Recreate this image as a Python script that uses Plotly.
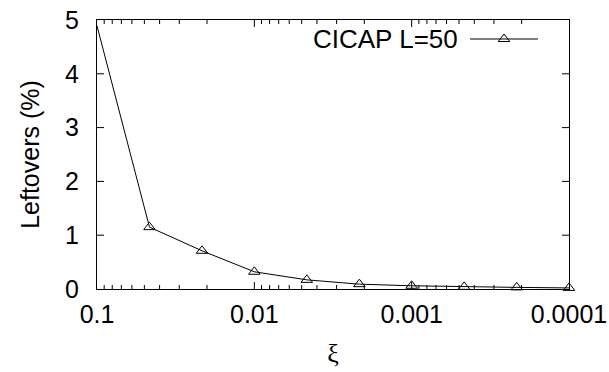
import math
import plotly.graph_objects as go

# Data
xi = [0.1, 0.0464, 0.0215, 0.01, 0.00464, 0.00215, 0.001, 0.000464, 0.000215, 0.0001]
leftovers = [4.89, 1.15, 0.71, 0.32, 0.17, 0.09, 0.06, 0.04, 0.03, 0.02]
x_tickvals = [0.1, 0.01, 0.001, 0.0001]
x_ticktext = ["0.1", "0.01", "0.001", "0.0001"]
y_tickvals = [0, 1, 2, 3, 4, 5]
series_name = "CICAP L=50"

W, H = 609, 372
ML, MR, MT, MB = 97, 40, 20, 83
PW, PH = W - ML - MR, H - MT - MB
FONT = "Liberation Sans, Arial, sans-serif"
XR = [-1, -4]  # log10 range, reversed
YR = [0, 5]

minor_vals = [m * 10.0 ** e for e in (-4, -3, -2) for m in range(2, 10)]


def px_to_data(px, py):
    fx = (px - ML) / PW
    fy = (H - MB - py) / PH
    return 10 ** (XR[0] + fx * (XR[1] - XR[0])), YR[0] + fy * (YR[1] - YR[0])


def x_frac(v):
    return (math.log10(v) - XR[0]) / (XR[1] - XR[0])


fig = go.Figure()
fig.add_trace(go.Scatter(
    x=xi, y=leftovers, mode="lines+markers", name=series_name,
    line=dict(color="black", width=1),
    marker=dict(symbol="triangle-up-open", size=10, color="black",
                line=dict(color="black", width=1)),
    showlegend=False, cliponaxis=False,
))

# legend key: line with a marker in the middle
k0 = px_to_data(470, 39)
k1 = px_to_data(538, 39)
km = px_to_data(504, 39)
fig.add_trace(go.Scatter(
    x=[k0[0], k1[0]], y=[k0[1], k1[1]], mode="lines",
    line=dict(color="black", width=1), showlegend=False, hoverinfo="skip",
    cliponaxis=False,
))
fig.add_trace(go.Scatter(
    x=[km[0]], y=[km[1]], mode="markers",
    marker=dict(symbol="triangle-up-open", size=10, color="black",
                line=dict(color="black", width=1)),
    showlegend=False, hoverinfo="skip", cliponaxis=False,
))

fig.add_annotation(
    text=series_name, xref="paper", yref="paper",
    x=(460 - ML) / PW, y=(H - MB - 39) / PH,
    xanchor="right", yanchor="middle", showarrow=False,
    font=dict(family=FONT, size=26, color="black"),
)

# inside tick marks on all four sides (gnuplot style), as pixel-sized shapes
tick_line = dict(color="black", width=1)
shapes = []
x_ticks = [(v, 7) for v in x_tickvals[1:-1]] + [(v, 4) for v in minor_vals]
for v, L in x_ticks:
    f = x_frac(v)
    shapes.append(dict(type="line", xref="paper", yref="paper", x0=f, x1=f,
                       ysizemode="pixel", yanchor=0, y0=0, y1=L, line=tick_line))
    shapes.append(dict(type="line", xref="paper", yref="paper", x0=f, x1=f,
                       ysizemode="pixel", yanchor=1, y0=0, y1=-L, line=tick_line))
for v in y_tickvals[1:-1]:
    shapes.append(dict(type="line", xref="paper", yref="y", y0=v, y1=v,
                       xsizemode="pixel", xanchor=0, x0=0, x1=7, line=tick_line))
    shapes.append(dict(type="line", xref="paper", yref="y", y0=v, y1=v,
                       xsizemode="pixel", xanchor=1, x0=0, x1=-7, line=tick_line))

fig.update_layout(
    width=W, height=H,
    margin=dict(l=ML, r=MR, t=MT, b=MB, pad=0, autoexpand=False),
    paper_bgcolor="white", plot_bgcolor="white",
    font=dict(family=FONT, size=25, color="black"),
    shapes=shapes,
    xaxis=dict(
        type="log", range=XR, automargin=False,
        tickmode="array", tickvals=x_tickvals, ticktext=x_ticktext,
        # transparent outside ticks only space the labels away from the axis
        ticks="outside", ticklen=3, tickcolor="rgba(0,0,0,0)",
        showline=True, linecolor="black", linewidth=1, mirror=True,
        showgrid=False, zeroline=False,
        tickfont=dict(family=FONT, size=25),
        title=dict(text="ξ", font=dict(family="Liberation Serif, DejaVu Serif, serif", size=26),
                   standoff=16),
    ),
    yaxis=dict(
        range=YR, tickmode="array", tickvals=y_tickvals, automargin=False,
        ticks="outside", ticklen=12, tickcolor="rgba(0,0,0,0)",
        showline=True, linecolor="black", linewidth=1, mirror=True,
        showgrid=False, zeroline=False,
        tickfont=dict(family=FONT, size=25),
        title=dict(text="Leftovers (%)", font=dict(family=FONT, size=25), standoff=18),
    ),
    showlegend=False,
)

fig.write_html("out.html")
